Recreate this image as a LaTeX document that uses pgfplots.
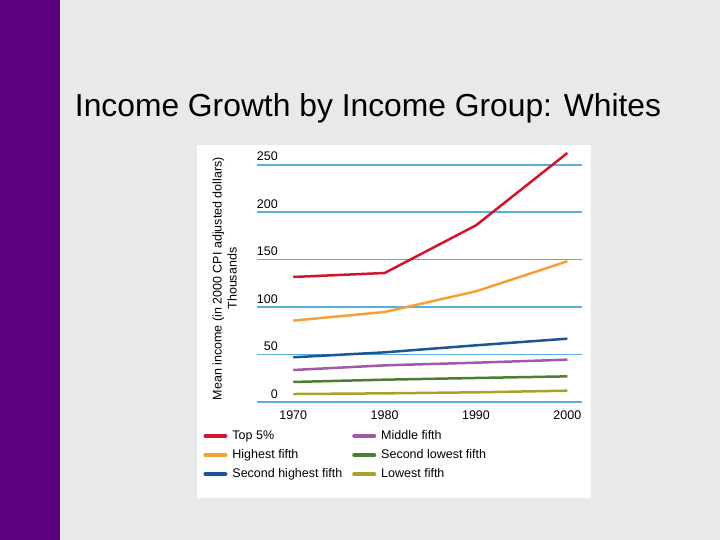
\documentclass[border=0pt]{standalone}
\usepackage{pgfplots}
\pgfplotsset{compat=1.18}
\usepackage{fontspec}
\setmainfont{Liberation Sans}
\definecolor{bggray}{HTML}{E9E9E9}
\definecolor{barpurple}{HTML}{5C0080}
\definecolor{gridblue}{HTML}{5AAEDC}
\definecolor{cred}{HTML}{D2142C}
\definecolor{corange}{HTML}{F5A035}
\definecolor{cblue}{HTML}{1B5596}
\definecolor{cpurple}{HTML}{A059A8}
\definecolor{cgreen}{HTML}{4D7D32}
\definecolor{colive}{HTML}{A9A12C}
\begin{document}
\begin{tikzpicture}[x=1bp,y=1bp]
\fill[bggray] (0,0) rectangle (720,540);
\fill[barpurple] (0,0) rectangle (60,540);
\fill[white] (197.3,42) rectangle (590.5,395);
\node[anchor=base, inner sep=0pt, font=\fontsize{31.8bp}{36bp}\selectfont] at (368,423.3) {Income Growth by Income Group: Whites};
\begin{axis}[
  at={(256.7bp,138bp)}, anchor=south west,
  scale only axis, width=324.8bp, height=237.3bp,
  xmin=1966.0, xmax=2001.55, ymin=0, ymax=250,
  clip=false,
  axis line style={draw=none},
  major tick length=0pt,
  tick style={draw=none},
  xtick={1970,1980,1990,2000},
  xticklabels={1970,1980,1990,2000},
  ytick={0,50,100,150,200,250},
  yticklabels={0,50,100,150,200,250},
  ymajorgrids,
  grid style={gridblue, line width=1.7bp},
  font=\fontsize{12.5bp}{15bp}\selectfont,
  xticklabel style={anchor=north, inner sep=0pt, yshift=-8.5bp},
  yticklabel style={anchor=south east, inner sep=0pt, xshift=21.3bp, yshift=3.5bp},
  ylabel={Mean income (in 2000 CPI adjusted dollars)\\Thousands},
  every axis y label/.style={at={(axis description cs:-0.099,0.520)}, rotate=90, anchor=center, align=center, font=\fontsize{12.5bp}{15bp}\selectfont},
  every axis plot/.append style={line width=2.5bp},
  legend columns=3,
  transpose legend,
  legend cell align=left,
  legend image code/.code={\draw[line width=4bp, line cap=round, #1] (2bp,0bp) -- (22bp,0bp);},
  legend style={draw=none, fill=none, at={(-0.164,-0.116)}, anchor=north west,
    inner sep=0pt, outer sep=0pt, row sep=5.5bp,
    font=\fontsize{12.5bp}{15bp}\selectfont,
    nodes={inner sep=1bp, text height=9bp, text depth=2.5bp},
    /tikz/every odd column/.append style={column sep=4bp},
    /tikz/every even column/.append style={column sep=9bp}},
]
\addplot[cred] coordinates {(1970,131.7) (1980,135.9) (1990,186.1) (2000,262.3)};
\addlegendentry{Top 5\%}
\addplot[corange] coordinates {(1970,85.7) (1980,94.8) (1990,116.6) (2000,148.2)};
\addlegendentry{Highest fifth}
\addplot[cblue] coordinates {(1970,47.1) (1980,52.3) (1990,59.7) (2000,66.7)};
\addlegendentry{Second highest fifth}
\addplot[cpurple] coordinates {(1970,33.7) (1980,38.6) (1990,41.4) (2000,44.6)};
\addlegendentry{Middle fifth}
\addplot[cgreen] coordinates {(1970,21.1) (1980,23.5) (1990,25.3) (2000,27.0)};
\addlegendentry{Second lowest fifth}
\addplot[colive] coordinates {(1970,8.4) (1980,9.1) (1990,10.2) (2000,11.9)};
\addlegendentry{Lowest fifth}
\end{axis}
\pgfresetboundingbox
\path[use as bounding box] (0,0) rectangle (720,540);
\end{tikzpicture}
\end{document}
